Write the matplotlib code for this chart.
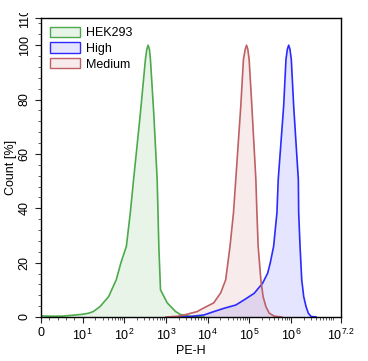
"""Flow cytometry overlay histogram (PE-H) for HEK293, High and Medium."""

from __future__ import annotations

import matplotlib

matplotlib.use("Agg")
import matplotlib.pyplot as plt
from matplotlib.patches import Patch
from matplotlib.transforms import Bbox, TransformedBbox

# PE-H intensity vs. normalised count (%)
hek_x = [0, 2, 5, 8, 10, 14, 18, 26, 42, 64, 83, 112, 139, 167, 243, 321,
         347, 372, 400, 423, 508, 614, 673, 738, 1070, 1700, 2230, 3900, 8000]
hek_y = [0.4, 0.3, 0.3, 0.7, 1.0, 1.4, 2.0, 3.8, 7.5, 13.7, 20, 26, 38.3,
         50.6, 75, 94.8, 98.5, 100, 98.5, 94.8, 75, 50.6, 26, 10, 5.2, 2,
         0.9, 0.2, 0]

high_x = [2000, 3900, 8150, 14200, 24700, 47300, 75000, 130600, 208000,
          275000, 317000, 383000, 460000, 494000, 667000, 758000, 818000,
          880000, 944000, 1017000, 1160000, 1500000, 1530000, 1650000,
          1810000, 2020000, 2300000, 2610000, 3020000, 4000000]
high_y = [0, 0.2, 0.74, 2.0, 3.2, 4.4, 6.3, 8.7, 12.4, 16.1, 19.8, 26, 38.3,
          50.6, 77.6, 94.8, 98.5, 100, 98.5, 94.8, 77.6, 50.6, 38.3, 26,
          13.7, 7.5, 3.8, 1.4, 0.2, 0]

med_x = [1000, 1860, 2690, 5600, 8000, 14000, 20600, 27100, 34400, 41700,
         47300, 62400, 72300, 79800, 85700, 92000, 98900, 115000, 143500,
         152000, 163000, 189000, 214000, 250000, 300000, 398000, 600000]
med_y = [0, 0.25, 0.7, 2, 3.3, 5.2, 8.9, 13.7, 26, 38.4, 50.6, 77.6, 94.8,
         98.5, 100, 98.5, 94.8, 77.6, 50.6, 38.4, 26, 13.7, 7.5, 3.8, 1.4,
         0.3, 0]

x_ticks = [0, 1e1, 1e2, 1e3, 1e4, 1e5, 1e6, 10 ** 7.2]
x_tick_labels = ["0", "$10^{1}$", "$10^{2}$", "$10^{3}$", "$10^{4}$",
                 "$10^{5}$", "$10^{6}$", "$10^{7.2}$"]
y_ticks = [0, 20, 40, 60, 80, 100, 110]
y_tick_labels = ["0", "20", "40", "60", "80", "100", "110"]

SERIES = [
    ("HEK293", hek_x, hek_y, "#4caa4c"),
    ("High", high_x, high_y, "#2b2bff"),
    ("Medium", med_x, med_y, "#bf6064"),
]

plt.rcParams["font.family"] = ["Liberation Sans", "DejaVu Sans"]
plt.rcParams["mathtext.default"] = "regular"
plt.rcParams["font.size"] = 9


def main() -> None:
    fig = plt.figure(figsize=(3.68, 3.61), dpi=100)
    ax = fig.add_axes([0.1114, 0.1219, 0.8152, 0.8282])

    handles = []
    for name, xs, ys, color in SERIES:
        ax.fill_between(xs, ys, 0, color=color, alpha=0.12, linewidth=0)
        ax.plot(xs, ys, color=color, linewidth=1.2, solid_joinstyle="round")
        handles.append(Patch(facecolor=(*matplotlib.colors.to_rgb(color), 0.12),
                             edgecolor=color, linewidth=1.0, label=name))

    ax.set_xscale("symlog", linthresh=10, linscale=0.9)
    ax.set_xlim(0, 10 ** 7.2)
    ax.set_ylim(0, 110)

    minor_x = [2, 4, 6, 8] + [m * 10 ** k for k in range(1, 7) for m in range(2, 10)] + [1e7]
    ax.set_xticks(x_ticks, x_tick_labels)
    ax.set_xticks(minor_x, minor=True)
    ax.set_yticks(y_ticks, y_tick_labels)
    ax.set_yticks([v for v in range(0, 110, 4) if v % 20], minor=True)

    ax.tick_params(which="major", length=4, width=0.8, color="#222222", labelsize=9)
    ax.tick_params(which="minor", length=2.5, width=0.6, color="#444444")
    ax.tick_params(axis="y", labelrotation=90)
    for lbl in ax.get_yticklabels():
        lbl.set_va("center")

    # top label ("110") is cut by the figure border in the reference
    clip = TransformedBbox(Bbox([[0, 0], [1, 0.964]]), fig.transFigure)
    top_lbl = ax.get_yticklabels()[-1]
    top_lbl.set_clip_box(clip)
    top_lbl.set_clip_on(True)

    for spine in ax.spines.values():
        spine.set_linewidth(1.0)

    ax.set_xlabel("PE-H", fontsize=9, labelpad=2)
    ax.set_ylabel("Count [%]", fontsize=9, labelpad=1)

    ax.legend(handles=handles, loc="upper left", frameon=False, fontsize=9,
              handlelength=2.4, handleheight=0.9, handletextpad=0.5,
              labelspacing=0.25, borderaxespad=0.3)

    fig.savefig("out.png", dpi=100)
    plt.close(fig)


if __name__ == "__main__":
    main()
